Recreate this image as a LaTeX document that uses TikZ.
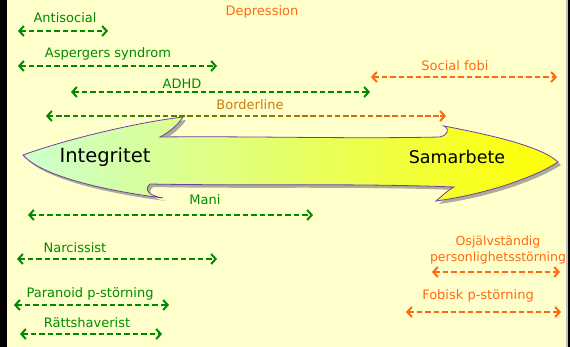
\documentclass[tikz,border=0pt]{standalone}
\usepackage{fontspec}
\setmainfont{DejaVu Sans}
\usetikzlibrary{arrows.meta,calc}
\definecolor{bg}{HTML}{FFFFCC}
\definecolor{gr}{HTML}{008A00}
\definecolor{og}{HTML}{FF6A10}
\definecolor{brn}{HTML}{CC7A10}
\definecolor{lgreen}{HTML}{CCFFCC}
\definecolor{mgreen}{HTML}{DDFF99}
\definecolor{yel}{HTML}{FFFF00}
\definecolor{purp}{HTML}{7040A0}
\tikzset{
  tipx/.tip={Straight Barb[length=4.5pt,width=10pt,line width=2pt]},
  darr/.style={dash pattern=on 5.5pt off 3pt, line width=1.8pt, tipx-tipx},
  lab/.style={font=\fontsize{13}{15.5}\selectfont, inner sep=0pt},
  big/.style={font=\fontsize{19.5}{22}\selectfont, inner sep=0pt, text=black},
}
\newcommand{\bigarrowpath}{(23,155)
  .. controls (70,138) and (140,122) .. (183,117)
  .. controls (178,125) and (168,133) .. (160,137)
  .. controls (250,136) and (350,139) .. (440,137)
  .. controls (448,135) and (450,129) .. (444,126)
  .. controls (480,133) and (540,145) .. (558,162)
  .. controls (530,180) and (480,195) .. (436,201)
  .. controls (442,196) and (448,190) .. (454,187)
  .. controls (350,183) and (250,186) .. (150,184)
  .. controls (143,190) and (150,196) .. (163,198)
  .. controls (100,190) and (40,175) .. (23,155) -- cycle}
\begin{document}
\begin{tikzpicture}[x=1pt,y=-1pt]
\useasboundingbox (0,0) rectangle (570,347);
\fill[bg] (0,0) rectangle (570,347);
\fill[black] (0,0) rectangle (7,347);
\fill[black!25] (566,0) rectangle (568,347);
\fill[black] (568,0) rectangle (570,347);

% big double arrow
\fill[black!50, opacity=0.65] [shift={(3,3)}] \bigarrowpath;
\shade[left color=lgreen, middle color=mgreen, right color=yel, draw=purp, line width=0.8pt] \bigarrowpath;
\node[big] (integ) at (105,157) {Integritet};
\node[big, font=\fontsize{17.5}{20}\selectfont] (samar) at (457,157) {Samarbete};

% Depression
\node[lab, text=og] (depr) at (262,12) {Depression};

% Antisocial
\coordinate (a1) at (18,31); \coordinate (a2) at (108,31);
\draw[darr, gr] (a1) -- (a2);
\node[lab, text=gr] (antis) at (65,18) {Antisocial};

% Aspergers
\coordinate (as1) at (18,66); \coordinate (as2) at (217,66);
\draw[darr, gr] (as1) -- (as2);
\node[lab, text=gr] (asp) at (108,54) {Aspergers syndrom};

% ADHD
\coordinate (ad1) at (71,92); \coordinate (ad2) at (370,92);
\draw[darr, gr] (ad1) -- (ad2);
\node[lab, text=gr] (adhd) at (182,84) {ADHD};

% Social fobi
\coordinate (sf1) at (371,77); \coordinate (sf2) at (557,77);
\draw[darr, og] (sf1) -- (sf2);
\node[lab, text=og] (sfobi) at (455,66) {Social fobi};

% Borderline (gradient)
\coordinate (b1) at (46,116); \coordinate (b2) at (446,116);
\foreach \i in {0,...,48} {
  \pgfmathsetmacro{\s}{(2+\i*8.2)/400}
  \pgfmathsetmacro{\e}{min((7.5+\i*8.2)/400,0.985)}
  \pgfmathtruncatemacro{\p}{100-100*\i/48}
  \colorlet{cc}{gr!\p!og}
  \draw[cc, line width=1.8pt] ($(b1)!\s!(b2)$) -- ($(b1)!\e!(b2)$);
}
\draw[gr, line width=1.8pt, -tipx] ($(b1)!0.01!(b2)$) -- (b1);
\draw[og, line width=1.8pt, -tipx] ($(b1)!0.99!(b2)$) -- (b2);
\node[lab, text=brn] (bord) at (250,105) {Borderline};

% Mani
\coordinate (m1) at (28,215); \coordinate (m2) at (313,215);
\draw[darr, gr] (m1) -- (m2);
\node[lab, text=gr] (mani) at (205,200) {Mani};

% Narcissist
\coordinate (n1) at (17,259); \coordinate (n2) at (217,259);
\draw[darr, gr] (n1) -- (n2);
\node[lab, text=gr] (narc) at (75,248) {Narcissist};

% Osjalvstandig
\coordinate (o1) at (432,272); \coordinate (o2) at (560,272);
\draw[darr, og] (o1) -- (o2);
\node[lab, text=og, align=center, font=\fontsize{12.5}{15.5}\selectfont] (osj) at (498,250) {Osjälvständig\\personlighetsstörning};

% Paranoid
\coordinate (p1) at (14,305); \coordinate (p2) at (169,305);
\draw[darr, gr] (p1) -- (p2);
\node[lab, text=gr] (para) at (90,294) {Paranoid p-störning};

% Fobisk
\coordinate (f1) at (406,312); \coordinate (f2) at (561,312);
\draw[darr, og] (f1) -- (f2);
\node[lab, text=og] (fob) at (478,296) {Fobisk p-störning};

% Rattshaverist
\coordinate (r1) at (20,334); \coordinate (r2) at (162,334);
\draw[darr, gr] (r1) -- (r2);
\node[lab, text=gr] (ratt) at (87,323) {Rättshaverist};
\end{tikzpicture}
\end{document}
